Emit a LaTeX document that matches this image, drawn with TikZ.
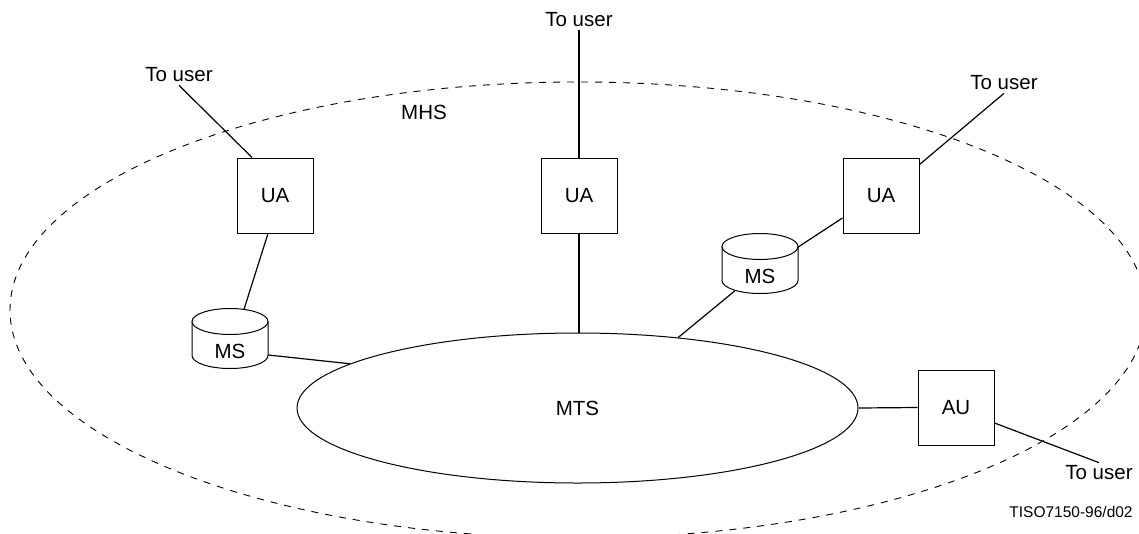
\documentclass[tikz,border=0pt]{standalone}
\usepackage{fontspec}
\setmainfont{Liberation Sans}
\usetikzlibrary{shapes.geometric}
\begin{document}
\begin{tikzpicture}[x=1pt,y=1pt,
  lbl/.style={font=\fontsize{20.5}{24}\selectfont, inner sep=3pt},
  uabox/.style={draw, line width=1pt, minimum width=76pt, minimum height=75pt, inner sep=0pt, font=\fontsize{20.5}{24}\selectfont},
  msbox/.style={minimum width=76pt, minimum height=60pt, inner sep=0pt},
  cyl/.style={line width=1pt},
  link/.style={line width=1.2pt},
  border/.style={line width=0.9pt, dash pattern=on 7pt off 7pt}]
\useasboundingbox (0,0) rectangle (1139,-533);
\draw[border] (578,-310) ellipse [x radius=568, y radius=228];
% boxes
\node[uabox] (ua1) at (275,-195.5) {UA};
\node[uabox] (ua2) at (579,-195.5) {UA};
\node[uabox] (ua3) at (881,-195.5) {UA};
\node[uabox] (au) at (956,-407.5) {AU};
\node[ellipse, draw, line width=1pt, minimum width=561pt, minimum height=150pt, inner sep=0pt, font=\fontsize{20.5}{24}\selectfont] (mts) at (577.5,-408) {MTS};
% message stores
\node[msbox] (ms1) at (230,-338.5) {};
\draw[cyl] ([yshift=17pt]ms1.center) ellipse [x radius=38, y radius=13];
\draw[cyl] ([shift={(-38,17)}]ms1.center) -- ++(0,-34) arc[start angle=180, end angle=360, x radius=38, y radius=13] -- ++(0,34);
\node[lbl] (ms1t) at ([yshift=-13pt]ms1.center) {MS};
\node[msbox] (ms2) at (760,-263.5) {};
\draw[cyl] ([yshift=17pt]ms2.center) ellipse [x radius=38, y radius=13];
\draw[cyl] ([shift={(-38,17)}]ms2.center) -- ++(0,-34) arc[start angle=180, end angle=360, x radius=38, y radius=13] -- ++(0,34);
\node[lbl] (ms2t) at ([yshift=-13pt]ms2.center) {MS};
% labels
\node[lbl] (tu1) at (179,-75) {To user};
\node[lbl] (tu2) at (579,-20) {To user};
\node[lbl] (tu3) at (1004,-83) {To user};
\node[lbl] (tu4) at (1099,-473) {To user};
\node[lbl] (mhs) at (424,-112) {MHS};
\node[font=\fontsize{15.5}{18}\selectfont, inner sep=2pt] (ref) at (1071,-512) {TISO7150-96/d02};
% connectors
\draw[link] ([xshift=-23pt]ua1.north) -- (tu1.south);
\draw[link] (ua2.north) -- (tu2.south);
\draw[link] ([yshift=-7pt]ua3.north east) -- (tu3.south);
\draw[link] ([yshift=-15.5pt]au.east) -- (tu4.north);
\draw[link] ([xshift=-7pt]ua1.south) -- ([xshift=14pt,yshift=-1pt]ms1.north);
\draw[link] ([yshift=-16.5pt]ms1.east) -- (mts.169.6);
\draw[link] (ua2.south) -- (ua2.south |- mts.north);
\draw[link] ([yshift=-22.5pt]ua3.west) -- ([yshift=16.5pt]ms2.east);
\draw[link] ([xshift=-25pt,yshift=3pt]ms2.south) -- (mts.35.6);
\draw[link] (mts.east) -- (au.west);
\end{tikzpicture}
\end{document}
